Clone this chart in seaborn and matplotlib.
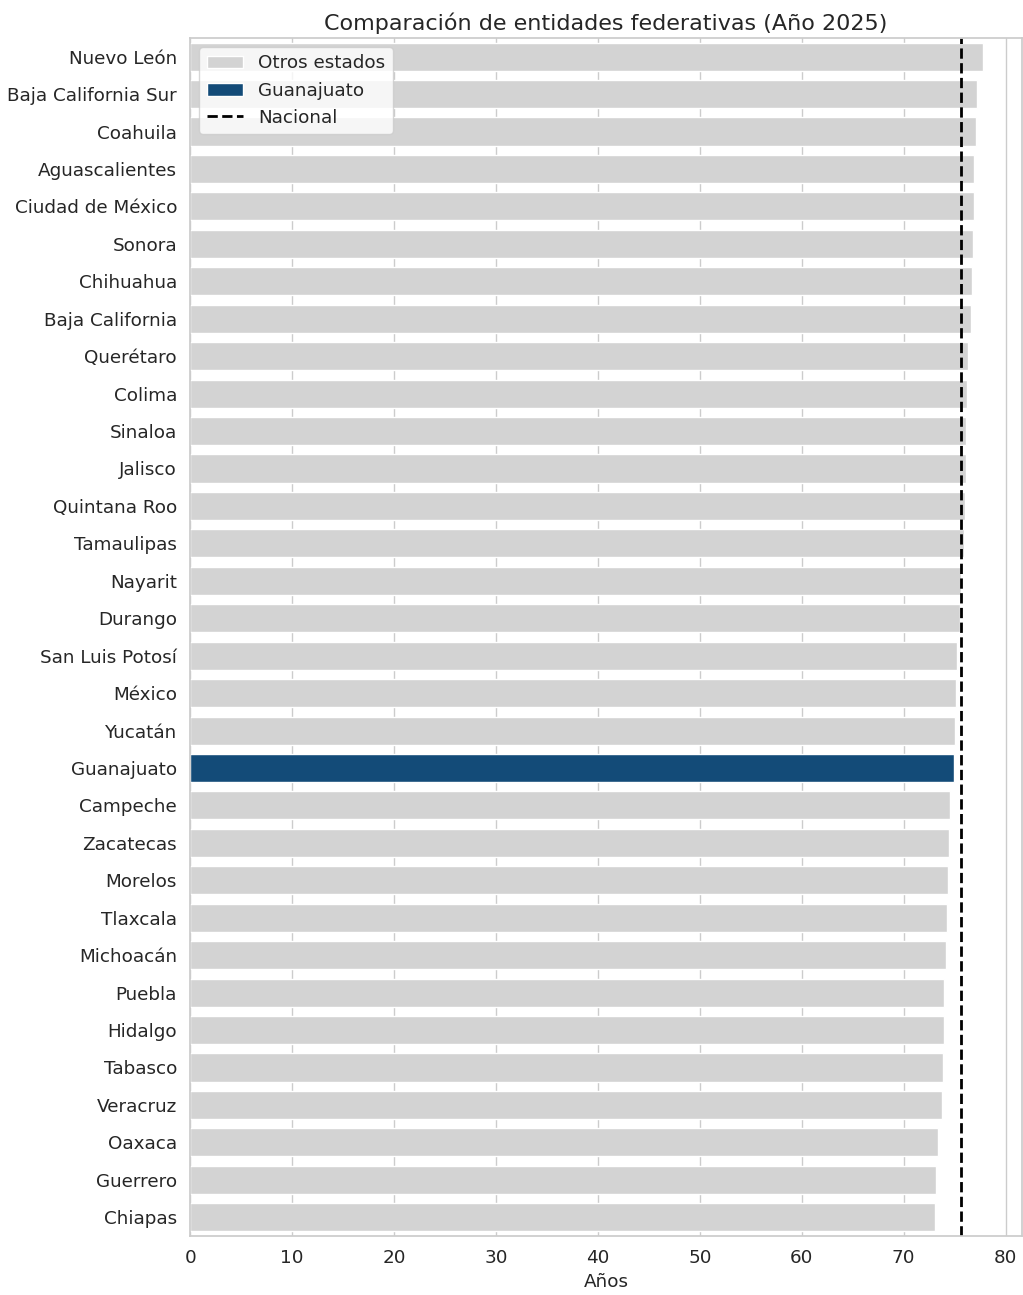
import numpy as np
import pandas as pd
import seaborn as sns
from matplotlib import pyplot as plt
from matplotlib.patches import Patch
from matplotlib.lines import Line2D

# Esperanza de vida por entidad, año 2025
estados = ['Nuevo León', 'Baja California Sur', 'Coahuila', 'Aguascalientes', 'Ciudad de México',
	'Sonora', 'Chihuahua', 'Baja California', 'Querétaro', 'Colima', 'Sinaloa', 'Jalisco',
	'Quintana Roo', 'Tamaulipas', 'Nayarit', 'Durango', 'San Luis Potosí', 'México', 'Yucatán',
	'Guanajuato', 'Campeche', 'Zacatecas', 'Morelos', 'Tlaxcala', 'Michoacán', 'Puebla',
	'Hidalgo', 'Tabasco', 'Veracruz', 'Oaxaca', 'Guerrero', 'Chiapas']
valores = [77.8, 77.2, 77.1, 76.85, 76.85, 76.75, 76.65, 76.55, 76.3, 76.2, 76.13, 76.1,
	76.03, 75.9, 75.6, 75.5, 75.27, 75.15, 75.02, 74.92, 74.56, 74.4, 74.36, 74.2, 74.14, 73.95,
	73.95, 73.85, 73.75, 73.32, 73.16, 73.02]
nacional = 75.57
destacado = 'Guanajuato'

color_otros = '#d3d3d3'
color_gto = '#134b78'

df = pd.DataFrame({'estado': estados, 'valor': valores})
df['grupo'] = np.where(df['estado'] == destacado, 'Guanajuato', 'Otros estados')

sns.set_theme(style='whitegrid')
fig, ax = plt.subplots(figsize=(10.23, 12.95), dpi=100)

sns.barplot(data=df, x='valor', y='estado', hue='grupo', order=estados,
	hue_order=['Otros estados', 'Guanajuato'], palette=[color_otros, color_gto],
	saturation=1, dodge=False, width=0.75, legend=False, ax=ax)
ax.axvline(nacional, color='black', linestyle='--', linewidth=2)

handles = [Patch(facecolor=color_otros, label='Otros estados'),
	Patch(facecolor=color_gto, label='Guanajuato'),
	Line2D([0], [0], color='black', linestyle='--', linewidth=2, label='Nacional')]
ax.legend(handles=handles, loc='upper left', fontsize=13.2)

ax.set_title('Comparación de entidades federativas (Año 2025)', fontsize=16)
ax.set_xlabel('Años', fontsize=13.2)
ax.set_ylabel('')
ax.tick_params(axis='both', labelsize=13.2)
ax.set_xticks(range(0, 81, 10))
ax.set_xlim(0, 81.6)
ax.set_axisbelow(True)

fig.subplots_adjust(left=0.186, right=0.999, top=0.9707, bottom=0.0456)
plt.savefig('out.png', dpi=100)
plt.close()
